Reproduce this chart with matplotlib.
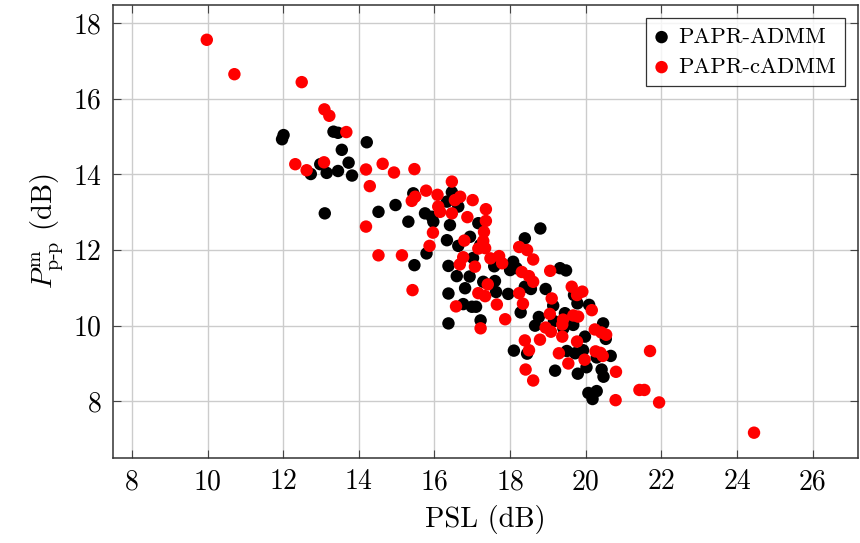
import matplotlib
matplotlib.use("Agg")
import matplotlib.pyplot as plt

plt.rcParams['font.family'] = ['cmr10', 'DejaVu Serif']
plt.rcParams['mathtext.fontset'] = 'cm'
plt.rcParams['axes.formatter.use_mathtext'] = True

# PAPR-ADMM (black)
admm_psl = [12.01, 11.97, 13.33, 13.45, 13.55, 14.21, 12.98, 12.73, 13.15, 13.45,
            13.73, 13.82, 13.10, 14.52, 14.97, 15.31, 15.47, 15.75, 15.79, 15.44,
            16.46, 16.33, 16.63, 15.93, 15.97, 16.41, 17.16, 16.94, 16.33, 16.63,
            17.21, 18.39, 18.80, 16.37, 17.02, 17.58, 18.08, 16.59, 16.93, 18.00,
            17.29, 17.60, 16.37, 17.95, 17.63, 16.81, 18.17, 19.32, 19.48, 18.39,
            18.55, 18.94, 19.69, 19.14, 18.28, 18.76, 18.66, 19.16, 19.45, 20.09,
            19.78, 20.46, 19.98, 16.76, 16.99, 17.10, 16.37, 17.22, 18.10, 18.45,
            19.50, 19.72, 19.93, 20.53, 20.66, 20.29, 19.19, 19.79, 20.02, 20.42,
            20.47, 20.07, 20.29, 20.18, 19.41, 19.67]
admm_ppp = [15.04, 14.93, 15.13, 15.10, 14.65, 14.85, 14.27, 14.01, 14.04, 14.09,
            14.31, 13.97, 12.97, 13.01, 13.19, 12.75, 11.60, 12.97, 11.91, 13.50,
            13.53, 13.28, 13.15, 12.88, 12.75, 12.66, 12.71, 12.35, 12.26, 12.11,
            12.13, 12.31, 12.57, 11.58, 11.79, 11.57, 11.69, 11.31, 11.30, 11.47,
            11.16, 11.18, 10.85, 10.84, 10.89, 10.99, 11.52, 11.52, 11.46, 11.03,
            10.97, 10.97, 10.81, 10.53, 10.35, 10.23, 10.00, 10.12, 10.33, 10.55,
            10.59, 10.06, 9.71, 10.57, 10.50, 10.50, 10.06, 10.14, 9.34, 9.26,
            9.33, 9.27, 9.35, 9.65, 9.20, 9.16, 8.81, 8.73, 8.90, 8.84,
            8.65, 8.22, 8.27, 8.06, 9.93, 10.02]

# PAPR-cADMM (red)
cadmm_psl = [9.98, 10.71, 12.49, 13.09, 13.22, 13.67, 12.32, 12.62, 13.08, 14.19,
             14.63, 14.93, 15.47, 14.29, 15.78, 14.19, 14.52, 15.14, 15.42, 15.49,
             15.40, 16.46, 16.08, 16.68, 16.54, 17.01, 16.10, 16.15, 16.46, 17.36,
             17.36, 16.87, 15.96, 17.31, 16.79, 15.87, 17.29, 17.16, 17.34, 16.76,
             17.48, 17.71, 17.79, 16.67, 17.07, 18.24, 18.45, 18.61, 19.06, 18.31,
             18.50, 18.61, 17.41, 17.16, 17.34, 19.63, 19.91, 19.10, 18.24, 19.77,
             18.34, 16.57, 17.65, 17.87, 17.22, 19.05, 20.16, 18.94, 19.08, 19.38,
             19.40, 19.67, 19.80, 20.24, 20.41, 20.54, 19.38, 18.39, 18.79, 19.77,
             18.50, 19.29, 20.26, 20.39, 20.45, 19.97, 19.54, 18.41, 18.61, 20.80,
             20.79, 21.70, 21.42, 21.55, 21.94, 24.45]
cadmm_ppp = [17.56, 16.65, 16.44, 15.72, 15.55, 15.12, 14.27, 14.11, 14.32, 14.13,
             14.28, 14.05, 14.14, 13.69, 13.57, 12.62, 11.86, 11.86, 10.94, 13.41,
             13.30, 13.81, 13.46, 13.41, 13.32, 13.32, 13.15, 13.01, 12.97, 13.08,
             12.77, 12.87, 12.46, 12.48, 12.25, 12.11, 12.24, 12.04, 12.05, 11.81,
             11.78, 11.84, 11.65, 11.62, 11.56, 12.08, 12.00, 11.75, 11.45, 11.42,
             11.31, 11.16, 11.09, 10.86, 10.78, 11.03, 10.90, 10.72, 10.86, 10.81,
             10.58, 10.51, 10.56, 10.17, 9.93, 10.31, 10.41, 9.95, 9.84, 10.03,
             10.16, 10.27, 10.24, 9.90, 9.82, 9.76, 9.71, 9.61, 9.63, 9.58,
             9.35, 9.27, 9.32, 9.28, 9.20, 9.10, 9.00, 8.84, 8.55, 8.78,
             8.03, 9.33, 8.30, 8.30, 7.97, 7.17]

xticks = [8, 10, 12, 14, 16, 18, 20, 22, 24, 26]
yticks = [8, 10, 12, 14, 16, 18]

fig = plt.figure(figsize=(8.6, 5.43), dpi=100)
ax = fig.add_axes([0.1314, 0.1565, 0.8663, 0.8343])

ax.scatter(admm_psl, admm_ppp, s=80, c='black', edgecolors='none',
           label='PAPR-ADMM', zorder=3)
ax.scatter(cadmm_psl, cadmm_ppp, s=80, c='red', edgecolors='none',
           label='PAPR-cADMM', zorder=4)

ax.set_xlim(7.5, 27.2)
ax.set_ylim(6.5, 18.48)
ax.set_xticks(xticks)
ax.set_yticks(yticks)
ax.set_xticklabels([str(t) for t in xticks])
ax.set_yticklabels([str(t) for t in yticks])
ax.grid(True, color='#cccccc', linewidth=1.0, zorder=0)
ax.set_axisbelow(True)
ax.tick_params(direction='in', length=6, width=0.8, color='#444444',
               labelsize=20, top=True, right=True, pad=8)
for sp in ax.spines.values():
    sp.set_linewidth(1.1)
    sp.set_color('#333333')

ax.set_xlabel('PSL (dB)', fontsize=20.5, labelpad=7)
ax.set_ylabel(r'$P^{\mathrm{m}}_{\mathrm{p}\text{-}\mathrm{p}}$ (dB)', fontsize=20.5, labelpad=6)

leg = ax.legend(loc='upper right', bbox_to_anchor=(0.983, 0.971), fontsize=16.3,
                frameon=True, fancybox=False, edgecolor='black',
                handletextpad=0.45, borderpad=0.4, labelspacing=0.45,
                handlelength=0.6, markerscale=1.0, borderaxespad=0)
leg.get_frame().set_linewidth(0.9)

fig.savefig('out.png', dpi=100)
